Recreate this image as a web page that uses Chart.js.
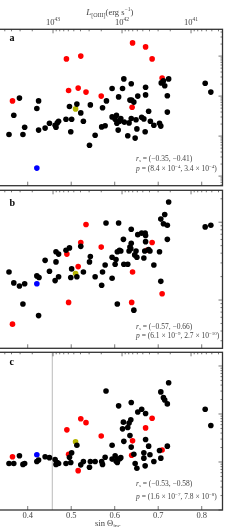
<!DOCTYPE html>
<html>
<head>
<meta charset="utf-8">
<script src="https://cdn.jsdelivr.net/npm/chart.js@4.4.0/dist/chart.umd.min.js"></script>
<style>
  html, body { margin: 0; padding: 0; background: #fff; overflow: hidden; width: 252px; height: 527px; }
  canvas { position: absolute; left: -10px; top: 0; }
</style>
</head>
<body>
<canvas id="panelA" width="262" height="527"></canvas>
<canvas id="panelB" width="262" height="527"></canvas>
<canvas id="panelC" width="262" height="527"></canvas>
<script>
// x = sin Theta, y = log10 of the plotted quantity (each panel has its own y)
const aBlack = [[0.357,0.04],[0.368,0.52],[0.381,0.95],[0.389,0.04],[0.393,0.22],[0.421,0.69],[0.425,0.88],[0.425,0.15],[0.440,0.20],[0.450,0.32],[0.463,0.27],[0.465,0.22],[0.468,0.33],[0.471,0.37],[0.488,0.42],[0.496,0.74],[0.499,0.11],[0.501,0.42],[0.513,0.80],[0.522,0.58],[0.528,0.37],[0.542,-0.23],[0.544,0.78],[0.555,0.02],[0.570,0.23],[0.572,0.71],[0.578,0.26],[0.581,0.88],[0.594,1.19],[0.594,0.48],[0.601,0.42],[0.604,0.52],[0.605,0.32],[0.608,0.15],[0.609,0.98],[0.611,0.37],[0.614,0.44],[0.618,1.19],[0.621,1.43],[0.622,0.35],[0.630,0.01],[0.633,0.33],[0.635,0.90],[0.638,1.31],[0.638,0.44],[0.639,0.90],[0.644,0.85],[0.647,-0.05],[0.649,0.41],[0.651,0.18],[0.653,1.00],[0.662,0.47],[0.667,0.43],[0.670,0.11],[0.671,1.22],[0.671,1.03],[0.678,0.62],[0.682,0.37],[0.690,0.27],[0.703,0.32],[0.706,0.25],[0.707,1.33],[0.712,1.38],[0.715,1.26],[0.721,1.01],[0.721,0.60],[0.724,1.43],[0.808,1.32],[0.821,1.10]];
const aRed = [[0.365,0.88],[0.489,1.93],[0.522,2.00],[0.494,1.14],[0.516,1.20],[0.534,1.10],[0.569,1.00],[0.641,2.33],[0.671,2.23],[0.686,1.93],[0.709,1.45],[0.640,0.72]];
const aBlue = [[0.421,-0.80]];
const aYellow = [[0.510,0.68]];

const bBlack = [[0.357,0.36],[0.368,0.22],[0.381,0.18],[0.389,-0.05],[0.393,0.21],[0.421,0.31],[0.425,-0.20],[0.426,0.29],[0.440,0.51],[0.450,0.37],[0.463,0.25],[0.465,0.49],[0.465,0.62],[0.471,0.30],[0.471,0.59],[0.488,0.64],[0.496,0.67],[0.499,0.29],[0.501,0.40],[0.513,0.30],[0.522,0.69],[0.528,0.36],[0.542,0.49],[0.544,0.56],[0.555,0.30],[0.570,0.19],[0.572,0.36],[0.578,0.45],[0.580,0.99],[0.594,0.28],[0.594,0.55],[0.601,0.46],[0.603,0.52],[0.606,-0.05],[0.609,0.99],[0.606,0.62],[0.611,0.64],[0.614,0.63],[0.620,0.78],[0.621,0.46],[0.630,0.46],[0.633,0.63],[0.635,0.68],[0.637,0.66],[0.638,0.91],[0.638,0.73],[0.644,-0.13],[0.646,0.58],[0.649,0.63],[0.651,0.55],[0.653,0.84],[0.662,0.86],[0.667,0.54],[0.669,0.63],[0.670,0.86],[0.671,0.83],[0.671,0.75],[0.678,0.65],[0.681,0.63],[0.690,0.45],[0.703,0.62],[0.706,0.24],[0.706,1.04],[0.712,0.98],[0.715,1.10],[0.721,0.96],[0.721,0.78],[0.724,1.26],[0.808,0.94],[0.821,0.96]];
const bRed = [[0.534,0.97],[0.522,0.74],[0.490,0.59],[0.569,0.68],[0.516,0.43],[0.641,0.36],[0.686,0.74],[0.674,0.64],[0.494,-0.03],[0.639,-0.03],[0.709,0.08],[0.365,-0.31]];
const bBlue = [[0.421,0.21]];
const bYellow = [[0.510,0.34]];

const cBlack = [[0.357,-0.03],[0.368,-0.03],[0.381,0.13],[0.389,-0.05],[0.393,-0.03],[0.421,0.01],[0.425,0.04],[0.440,0.11],[0.450,0.09],[0.463,0.05],[0.465,-0.05],[0.468,-0.01],[0.471,-0.03],[0.488,-0.03],[0.496,0.10],[0.499,-0.01],[0.501,0.19],[0.513,0.35],[0.522,-0.06],[0.528,0.01],[0.542,-0.11],[0.544,0.01],[0.555,0.01],[0.570,0.01],[0.572,-0.05],[0.578,0.10],[0.580,1.48],[0.594,0.35],[0.594,0.06],[0.601,0.13],[0.603,0.02],[0.606,-0.01],[0.609,1.17],[0.606,0.06],[0.611,0.06],[0.614,0.09],[0.620,0.83],[0.621,0.43],[0.618,0.69],[0.630,0.72],[0.633,0.81],[0.635,0.55],[0.637,0.88],[0.638,1.24],[0.638,0.31],[0.644,0.16],[0.647,-0.03],[0.651,-0.13],[0.653,1.04],[0.662,1.10],[0.667,0.19],[0.667,0.08],[0.670,-0.08],[0.671,1.01],[0.671,0.47],[0.678,0.33],[0.681,0.15],[0.690,0.01],[0.703,0.24],[0.706,0.08],[0.706,1.46],[0.712,1.34],[0.715,1.29],[0.721,1.21],[0.721,0.33],[0.724,1.65],[0.808,1.10],[0.821,0.76]];
const cRed = [[0.365,0.11],[0.490,0.67],[0.522,0.90],[0.534,0.82],[0.569,0.54],[0.494,0.16],[0.516,-0.18],[0.641,0.44],[0.671,0.71],[0.686,0.91],[0.709,0.25],[0.639,0.14]];
const cBlue = [[0.421,0.15]];
const cYellow = [[0.510,0.42]];

const cutSin = 0.4565;           // grey vertical line in panel c
const sinTicks = [0.4, 0.5, 0.6, 0.7, 0.8];
const lumTicks = [43, 42, 41];   // log10 L[OIII], top axis

const SERIF = "'Liberation Serif', 'DejaVu Serif', serif";
const INK = '#444';

function pts(arr) { return arr.map(p => ({ x: p[0], y: p[1] })); }

function drawRuns(ctx, parts, x, y, align) {
  let w = 0;
  parts.forEach(p => { ctx.font = p[1]; w += ctx.measureText(p[0]).width; });
  let cx = align === 'center' ? x - w / 2 : x;
  parts.forEach(p => {
    ctx.font = p[1];
    ctx.fillText(p[0], cx, y + (p[2] || 0));
    cx += ctx.measureText(p[0]).width;
  });
}

function logTicks(min, max) {
  const out = [];
  for (let n = Math.floor(min) - 1; n <= Math.ceil(max); n++) {
    for (let k = 1; k <= 9; k++) {
      const v = n + Math.log10(k);
      if (v >= min && v <= max) out.push([v, k === 1]);
    }
  }
  return out;
}

const framePlugin = {
  id: 'frame',
  afterDatasetsDraw(chart, args, o) {
    const { ctx, chartArea: a, scales } = chart;
    ctx.save();
    ctx.strokeStyle = '#555';
    ctx.lineWidth = 0.8;
    ctx.beginPath();
    sinTicks.forEach(v => {
      const x = scales.x.getPixelForValue(v);
      ctx.moveTo(x, a.bottom); ctx.lineTo(x, a.bottom - 4);
    });
    logTicks(scales.lum.min, scales.lum.max).forEach(([v, major]) => {
      const x = scales.lum.getPixelForValue(v);
      ctx.moveTo(x, a.top); ctx.lineTo(x, a.top + (major ? 4 : 2));
    });
    logTicks(scales.y.min, scales.y.max).forEach(([v, major]) => {
      const y = scales.y.getPixelForValue(v);
      ctx.moveTo(a.right, y); ctx.lineTo(a.right - (major ? 4 : 2), y);
    });
    ctx.stroke();

    ctx.strokeStyle = '#333';
    ctx.lineWidth = 1.3;
    ctx.strokeRect(a.left, a.top, a.right - a.left, a.bottom - a.top);

    // panel letter
    ctx.fillStyle = '#000';
    ctx.textBaseline = 'alphabetic';
    ctx.font = 'bold 10px ' + SERIF;
    ctx.fillText(o.letter, a.left + 14.5, o.letterY);

    // correlation text
    ctx.fillStyle = INK;
    ctx.textBaseline = 'middle';
    const f = '7.5px ' + SERIF, fi = 'italic 7.5px ' + SERIF, fs = '5px ' + SERIF;
    const tx = a.left + 141;
    drawRuns(ctx, [['r', fi], ['s', 'italic ' + fs, 1.5], [' = (' + o.rs[0] + ', ' + o.rs[1] + ')', f]], tx, o.textY[0]);
    drawRuns(ctx, [['p', fi], [' = (' + o.p[0] + ' × 10', f], [o.p[1], fs, -2.5], [', ' + o.p[2] + ' × 10', f], [o.p[3], fs, -2.5], [')', f]], tx, o.textY[1]);

    const mid = (a.left + a.right) / 2;
    if (o.topAxis) {
      ctx.fillStyle = INK;
      lumTicks.forEach(v => {
        drawRuns(ctx, [['10', '8.5px ' + SERIF], [String(v), '5.5px ' + SERIF, -3]], scales.lum.getPixelForValue(v), 22.7, 'center');
      });
      drawRuns(ctx, [['L', 'italic 9px ' + SERIF], ['[OIII]', '6px ' + SERIF, 2.5], ['(erg s', '8.5px ' + SERIF], ['−1', '5.5px ' + SERIF, -3], [')', '8.5px ' + SERIF]], mid + 1, 12.7, 'center');
    }
    if (o.bottomAxis) {
      ctx.fillStyle = INK;
      ctx.textAlign = 'center';
      ctx.font = '8.5px ' + SERIF;
      sinTicks.forEach(v => ctx.fillText(v.toFixed(1), scales.x.getPixelForValue(v), 515.5));
      ctx.textAlign = 'left';
      drawRuns(ctx, [['sin Θ', '8.5px ' + SERIF], ['inc', '6px ' + SERIF, 2.5]], mid - 1, 524, 'center');
    }
    ctx.restore();
  }
};

function makePanel(id, sets, yMin, yMax, top, bottom, extra, opts) {
  const dot = (data, color) => ({
    type: 'scatter', data: pts(data), backgroundColor: color, borderWidth: 0,
    pointRadius: 2.8, pointHoverRadius: 2.8
  });
  const datasets = [
    dot(sets[0], '#000000'),
    dot(sets[3], '#b5b500'),
    dot(sets[2], '#0000ff'),
    dot(sets[1], '#ff0000')
  ].concat(extra);
  return new Chart(document.getElementById(id), {
    type: 'scatter',
    data: { datasets },
    options: {
      responsive: false,
      devicePixelRatio: 1,
      animation: false,
      layout: { padding: { left: 5, right: 29.5, top: top, bottom: 527 - bottom } },
      plugins: { legend: { display: false }, tooltip: { enabled: false }, frame: opts },
      scales: {
        x: { type: 'linear', min: 0.3248, max: 0.8478, display: false },
        lum: { type: 'linear', axis: 'x', position: 'top', reverse: true, min: 40.544, max: 43.841, display: false },
        y: { type: 'linear', min: yMin, max: yMax, display: false }
      }
    },
    plugins: [framePlugin]
  });
}

makePanel('panelA', [aBlack, aRed, aBlue, aYellow], -1.24, 2.67, 29.3, 185.7, [], {
  letter: 'a', letterY: 40.5, textY: [159.3, 168.7],
  rs: ['−0.35', '−0.41'], p: ['8.4', '−4', '3.4', '−4'], topAxis: true
});

makePanel('panelB', [bBlack, bRed, bBlue, bYellow], -0.62, 1.41, 190.3, 348.3, [], {
  letter: 'b', letterY: 206, textY: [327.3, 335.7],
  rs: ['−0.57', '−0.66'], p: ['6.1', '−9', '2.7', '−10']
});

makePanel('panelC', [cBlack, cRed, cBlue, cYellow], -1.0, 2.285, 352.3, 510, [{
  type: 'line', data: [{ x: cutSin, y: -1.0 }, { x: cutSin, y: 2.285 }],
  borderColor: '#bbbbbb', borderWidth: 1, pointRadius: 0
}], {
  letter: 'c', letterY: 365, textY: [484.3, 496.7],
  rs: ['−0.53', '−0.58'], p: ['1.6', '−7', '7.8', '−8'], bottomAxis: true
});
</script>
</body>
</html>
